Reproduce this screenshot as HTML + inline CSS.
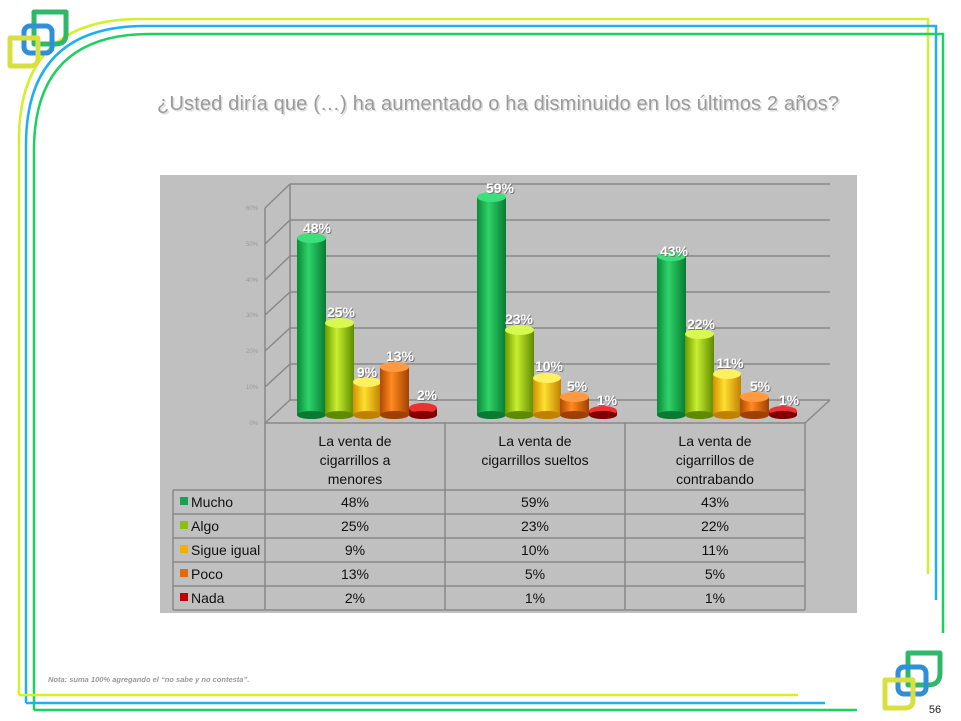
<!DOCTYPE html>
<html><head><meta charset="utf-8"><style>
body{margin:0;background:#fff;}
svg{display:block;font-family:"Liberation Sans",sans-serif;}
</style></head><body>
<svg width="961" height="721" viewBox="0 0 961 721" xmlns="http://www.w3.org/2000/svg">
<defs>
<linearGradient id="g1" x1="0" x2="1"><stop offset="0" stop-color="#0a8a3a"/><stop offset=".4" stop-color="#2fd36a"/><stop offset="1" stop-color="#0a7a32"/></linearGradient>
<linearGradient id="g2" x1="0" x2="1"><stop offset="0" stop-color="#6a9a00"/><stop offset=".4" stop-color="#c8ee30"/><stop offset="1" stop-color="#5f8a00"/></linearGradient>
<linearGradient id="g3" x1="0" x2="1"><stop offset="0" stop-color="#d09000"/><stop offset=".4" stop-color="#ffe030"/><stop offset="1" stop-color="#c08000"/></linearGradient>
<linearGradient id="g4" x1="0" x2="1"><stop offset="0" stop-color="#b04800"/><stop offset=".4" stop-color="#ff8a20"/><stop offset="1" stop-color="#a04000"/></linearGradient>
<linearGradient id="g5" x1="0" x2="1"><stop offset="0" stop-color="#900000"/><stop offset=".4" stop-color="#f02020"/><stop offset="1" stop-color="#800000"/></linearGradient>
</defs>
<g fill="none" stroke-width="2.5">
<path d="M19,695 V140 Q19,19 140,19 H928 V574" stroke="#d4f02a"/>
<path d="M26,703 V145 Q26,26 145,26 H936 V600" stroke="#1fb0f0"/>
<path d="M34,710 V150 Q34,34 150,34 H943 V633" stroke="#1ed060"/>
<path d="M19,695 H798" stroke="#d4f02a"/>
<path d="M26,703 H825" stroke="#1fb0f0"/>
<path d="M34,710 H857" stroke="#1ed060"/>
</g>
<g fill="none" stroke-width="5">
<path d="M34,12 H66 V34 Q66,44 56,44 H34 Z" stroke="#2fb86a" stroke-linejoin="round"/>
<rect x="24" y="26" width="28" height="27" rx="6" stroke="#2f8fd8"/>
<path d="M10,38 H38 V58 Q38,66 30,66 H10 Z" stroke="#d8e040" stroke-linejoin="round"/>
<path d="M908,653 H940 V673 Q940,685 928,685 H908 Z" stroke="#2fb86a" stroke-linejoin="round"/>
<rect x="898" y="667" width="28" height="27" rx="6" stroke="#2f8fd8"/>
<path d="M885,680 H913 V700 Q913,708 905,708 H885 Z" stroke="#d8e040" stroke-linejoin="round"/>
</g>
<text x="935" y="713" font-size="11" text-anchor="middle" fill="#222">56</text>
<text x="498" y="110" font-size="20" text-anchor="middle" fill="#ddd" transform="translate(1.5,1.5)" textLength="682">¿Usted diría que (…) ha aumentado o ha disminuido en los últimos 2 años?</text>
<text x="498" y="110" font-size="20" text-anchor="middle" fill="#9a9a9a" textLength="682">¿Usted diría que (…) ha aumentado o ha disminuido en los últimos 2 años?</text>
<rect x="160" y="175" width="697" height="438" fill="#c0c0c0"/>
<g stroke="#888" stroke-width="1.5" fill="none">
<path d="M290,184 H830 M290,220 H830 M290,256 H830 M290,292 H830 M290,328 H830 M290,364 H830 M290,400 H830"/>
<path d="M265,208 L290,184 M265,244 L290,220 M265,280 L290,256 M265,315 L290,292 M265,351 L290,328 M265,387 L290,364 M265,423 L290,400 M805,423 L830,400"/>
<path d="M265,208 V423 H805"/>
<path d="M290,184 V400"/>
</g>
<g font-size="6" fill="#999" text-anchor="end">
<text x="258" y="210">60%</text><text x="258" y="246">50%</text><text x="258" y="282">40%</text><text x="258" y="317">30%</text><text x="258" y="353">20%</text><text x="258" y="389">10%</text><text x="258" y="425">0%</text>
</g>
<g>
<rect x="297" y="238" width="29" height="177" fill="url(#g1)"/><ellipse cx="311.5" cy="238" rx="14.5" ry="5" fill="#3ce07a"/><ellipse cx="311.5" cy="415" rx="14.5" ry="4" fill="#0a7a32"/>
<rect x="325" y="323" width="29" height="92" fill="url(#g2)"/><ellipse cx="339.5" cy="323" rx="14.5" ry="5" fill="#d8f850"/><ellipse cx="339.5" cy="415" rx="14.5" ry="4" fill="#5f8a00"/>
<rect x="353" y="382" width="28" height="33" fill="url(#g3)"/><ellipse cx="367" cy="382" rx="14" ry="5" fill="#fff060"/><ellipse cx="367" cy="415" rx="14" ry="4" fill="#c08000"/>
<rect x="380" y="367" width="29" height="48" fill="url(#g4)"/><ellipse cx="394.5" cy="367" rx="14.5" ry="5" fill="#ff9a40"/><ellipse cx="394.5" cy="415" rx="14.5" ry="4" fill="#a04000"/>
<rect x="409" y="408" width="28" height="7" fill="url(#g5)"/><ellipse cx="423" cy="408" rx="14" ry="5" fill="#f03030"/><ellipse cx="423" cy="415" rx="14" ry="4" fill="#800000"/>
<rect x="477" y="197" width="29" height="218" fill="url(#g1)"/><ellipse cx="491.5" cy="197" rx="14.5" ry="5" fill="#3ce07a"/><ellipse cx="491.5" cy="415" rx="14.5" ry="4" fill="#0a7a32"/>
<rect x="505" y="330" width="29" height="85" fill="url(#g2)"/><ellipse cx="519.5" cy="330" rx="14.5" ry="5" fill="#d8f850"/><ellipse cx="519.5" cy="415" rx="14.5" ry="4" fill="#5f8a00"/>
<rect x="533" y="378" width="28" height="37" fill="url(#g3)"/><ellipse cx="547" cy="378" rx="14" ry="5" fill="#fff060"/><ellipse cx="547" cy="415" rx="14" ry="4" fill="#c08000"/>
<rect x="560" y="397" width="29" height="18" fill="url(#g4)"/><ellipse cx="574.5" cy="397" rx="14.5" ry="5" fill="#ff9a40"/><ellipse cx="574.5" cy="415" rx="14.5" ry="4" fill="#a04000"/>
<rect x="589" y="411" width="28" height="4" fill="url(#g5)"/><ellipse cx="603" cy="411" rx="14" ry="5" fill="#f03030"/><ellipse cx="603" cy="415" rx="14" ry="4" fill="#800000"/>
<rect x="657" y="256" width="29" height="159" fill="url(#g1)"/><ellipse cx="671.5" cy="256" rx="14.5" ry="5" fill="#3ce07a"/><ellipse cx="671.5" cy="415" rx="14.5" ry="4" fill="#0a7a32"/>
<rect x="685" y="334" width="29" height="81" fill="url(#g2)"/><ellipse cx="699.5" cy="334" rx="14.5" ry="5" fill="#d8f850"/><ellipse cx="699.5" cy="415" rx="14.5" ry="4" fill="#5f8a00"/>
<rect x="713" y="374" width="28" height="41" fill="url(#g3)"/><ellipse cx="727" cy="374" rx="14" ry="5" fill="#fff060"/><ellipse cx="727" cy="415" rx="14" ry="4" fill="#c08000"/>
<rect x="740" y="397" width="29" height="18" fill="url(#g4)"/><ellipse cx="754.5" cy="397" rx="14.5" ry="5" fill="#ff9a40"/><ellipse cx="754.5" cy="415" rx="14.5" ry="4" fill="#a04000"/>
<rect x="769" y="411" width="28" height="4" fill="url(#g5)"/><ellipse cx="783" cy="411" rx="14" ry="5" fill="#f03030"/><ellipse cx="783" cy="415" rx="14" ry="4" fill="#800000"/>
</g>
<g id="vl" font-size="14" font-weight="bold" text-anchor="middle">
<g fill="#777" transform="translate(1,1)">
<text x="317" y="233">48%</text><text x="341" y="317">25%</text><text x="367" y="377">9%</text><text x="400" y="361">13%</text><text x="427" y="400">2%</text>
<text x="500" y="193">59%</text><text x="519" y="324">23%</text><text x="549" y="371">10%</text><text x="577" y="391">5%</text><text x="607" y="405">1%</text>
<text x="674" y="256">43%</text><text x="701" y="329">22%</text><text x="730" y="368">11%</text><text x="760" y="391">5%</text><text x="789" y="405">1%</text>
</g>
<g fill="#fff">
<text x="317" y="233">48%</text><text x="341" y="317">25%</text><text x="367" y="377">9%</text><text x="400" y="361">13%</text><text x="427" y="400">2%</text>
<text x="500" y="193">59%</text><text x="519" y="324">23%</text><text x="549" y="371">10%</text><text x="577" y="391">5%</text><text x="607" y="405">1%</text>
<text x="674" y="256">43%</text><text x="701" y="329">22%</text><text x="730" y="368">11%</text><text x="760" y="391">5%</text><text x="789" y="405">1%</text>
</g>
</g>
<g stroke="#888" stroke-width="1.5" fill="none">
<path d="M265,423 V610 M445,423 V610 M625,423 V610 M805,423 V610"/>
<path d="M173,490 H805 M173,514 H805 M173,538 H805 M173,562 H805 M173,586 H805 M173,610 H805 M173,490 V610"/>
</g>
<g font-size="14" fill="#111" text-anchor="middle">
<text x="355" y="446">La venta de</text><text x="355" y="465">cigarrillos a</text><text x="355" y="484">menores</text>
<text x="535" y="446">La venta de</text><text x="535" y="465">cigarrillos sueltos</text>
<text x="715" y="446">La venta de</text><text x="715" y="465">cigarrillos de</text><text x="715" y="484">contrabando</text>
<text x="355" y="507">48%</text><text x="535" y="507">59%</text><text x="715" y="507">43%</text>
<text x="355" y="531">25%</text><text x="535" y="531">23%</text><text x="715" y="531">22%</text>
<text x="355" y="555">9%</text><text x="535" y="555">10%</text><text x="715" y="555">11%</text>
<text x="355" y="579">13%</text><text x="535" y="579">5%</text><text x="715" y="579">5%</text>
<text x="355" y="603">2%</text><text x="535" y="603">1%</text><text x="715" y="603">1%</text>
</g>
<g font-size="14" fill="#111">
<rect x="180" y="497" width="8" height="8" fill="#18a050"/><text x="191" y="507">Mucho</text>
<rect x="180" y="521" width="8" height="8" fill="#88c010"/><text x="191" y="531">Algo</text>
<rect x="180" y="545" width="8" height="8" fill="#f0b000"/><text x="191" y="555">Sigue igual</text>
<rect x="180" y="569" width="8" height="8" fill="#e06a10"/><text x="191" y="579">Poco</text>
<rect x="180" y="593" width="8" height="8" fill="#c00000"/><text x="191" y="603">Nada</text>
</g>
<text x="48" y="682" font-size="7.5" font-style="italic" font-weight="bold" fill="#999">Nota: suma 100% agregando el “no sabe y no contesta”.</text>
</svg>
</body></html>
